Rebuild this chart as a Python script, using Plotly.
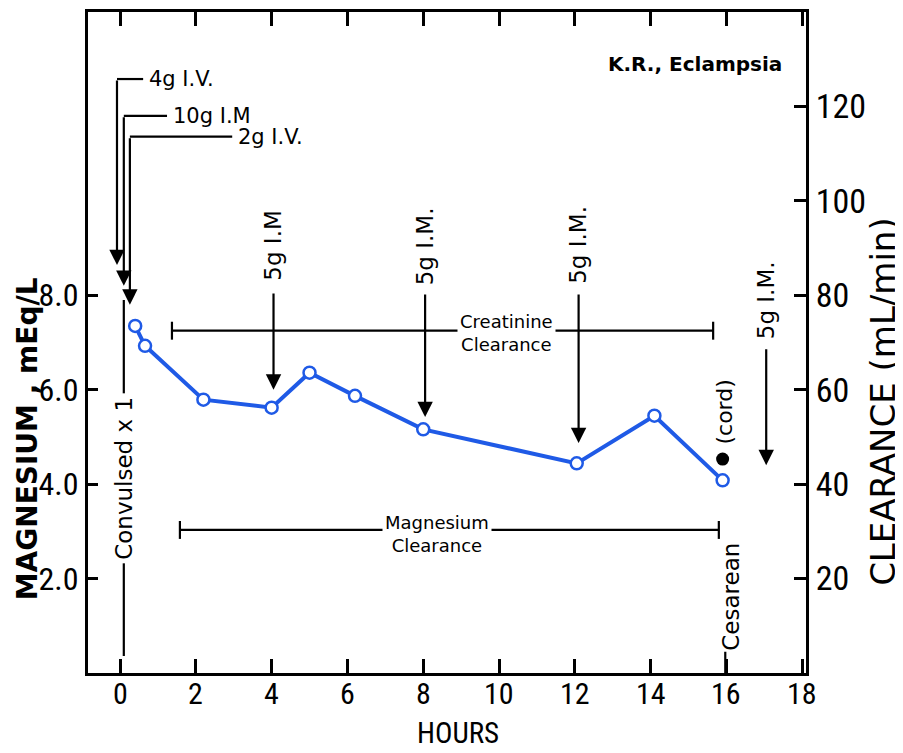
import plotly.graph_objects as go

# ---- data ----
hours = [0.4, 0.66, 2.2, 4.0, 5.0, 6.2, 8.0, 12.05, 14.1, 15.9]
magnesium = [7.35, 6.93, 5.79, 5.62, 6.36, 5.87, 5.16, 4.44, 5.45, 4.08]
cord_hour = [15.9]
cord_mg = [4.53]

x_ticks = [0, 2, 4, 6, 8, 10, 12, 14, 16, 18]
x_labels = ["0", "2", "4", "6", "8", "10", "12", "14", "16", "18"]
left_ticks = [2, 4, 6, 8]
left_labels = ["2.0", "4.0", "6.0", "8.0"]
right_ticks = [20, 40, 60, 80, 100, 120]

# maintenance doses: hour, label, text centre (mg), line top (mg), arrow tip (mg)
dose_hours = [4.05, 8.05, 12.1, 17.05]
dose_labels = ["5g I.M", "5g I.M.", "5g I.M.", "5g I.M."]
dose_text_y = [9.04, 9.04, 9.06, 7.9]
dose_top = [8.07, 8.05, 8.05, 6.89]
dose_tip = [6.0, 5.42, 4.87, 4.4]

# loading doses (L-shaped arrows): vertical hour, top (mg), tip (mg), horizontal end hour, label
load_hours = [-0.08, 0.1, 0.26]
load_top = [12.58, 11.8, 11.36]
load_tip = [8.64, 8.2, 7.8]
load_end = [0.61, 1.24, 2.96]
load_labels = ["4g I.V.", "10g I.M", "2g I.V."]

BLUE = "#1f5ae6"
NARROW = "Liberation Sans Narrow, Roboto Condensed, Liberation Sans, sans-serif"
WIDE = "DejaVu Sans, Verdana, sans-serif"

fig = go.Figure()

fig.add_trace(go.Scatter(
    x=hours, y=magnesium, mode="lines+markers",
    line=dict(color=BLUE, width=4),
    marker=dict(symbol="circle", size=12, color="white", line=dict(color=BLUE, width=2.5)),
    showlegend=False, hoverinfo="skip"))
fig.add_trace(go.Scatter(
    x=cord_hour, y=cord_mg, mode="markers",
    marker=dict(symbol="circle", size=13, color="black"),
    showlegend=False, hoverinfo="skip"))
# invisible trace to create right axis
fig.add_trace(go.Scatter(x=[None], y=[None], yaxis="y2", showlegend=False, hoverinfo="skip"))

shapes = []
ann = []
LW = 2.2

# loading doses
for h, top, tip, end, lab in zip(load_hours, load_top, load_tip, load_end, load_labels):
    shapes.append(dict(type="line", xref="x", yref="y", x0=h, x1=end, y0=top, y1=top,
                       line=dict(color="black", width=LW)))
    ann.append(dict(x=h, y=tip, ax=h, ay=top, xref="x", yref="y", axref="x", ayref="y",
                    text="", showarrow=True, arrowhead=2, arrowsize=1.4, arrowwidth=LW,
                    arrowcolor="black", standoff=0))
    ann.append(dict(x=end + 0.1, y=top, xref="x", yref="y", text=lab, showarrow=False,
                    xanchor="left", yanchor="middle", font=dict(family=WIDE, size=21, color="black")))

# maintenance doses
for h, lab, ty, top, tip in zip(dose_hours, dose_labels, dose_text_y, dose_top, dose_tip):
    ann.append(dict(x=h, y=tip, ax=h, ay=top, xref="x", yref="y", axref="x", ayref="y",
                    text="", showarrow=True, arrowhead=2, arrowsize=1.4, arrowwidth=LW,
                    arrowcolor="black", standoff=0))
    ann.append(dict(x=h, y=ty, xref="x", yref="y", text=lab, showarrow=False, textangle=-90,
                    xanchor="center", yanchor="middle", font=dict(family=WIDE, size=23, color="black")))

# convulsed line
shapes.append(dict(type="line", xref="x", yref="y", x0=0.1, x1=0.1, y0=0.36, y1=7.9,
                   line=dict(color="black", width=LW)))
ann.append(dict(x=0.1, y=4.13, xref="x", yref="y", text="Convulsed x 1", showarrow=False,
                textangle=-90, bgcolor="white", borderpad=3,
                font=dict(family=WIDE, size=23, color="black")))

# clearance bars
bars = [(1.37, 15.65, 7.25, 10.21, 7.2, "Creatinine<br>Clearance"),
        (1.58, 15.8, 3.03, 8.36, 2.95, "Magnesium<br>Clearance")]
for x0, x1, yb, tx, ty, lab in bars:
    shapes.append(dict(type="line", xref="x", yref="y", x0=x0, x1=x1, y0=yb, y1=yb,
                       line=dict(color="black", width=LW)))
    for xc in (x0, x1):
        shapes.append(dict(type="line", xref="x", yref="y", x0=xc, x1=xc, y0=yb - 0.19, y1=yb + 0.19,
                           line=dict(color="black", width=LW)))
    ann.append(dict(x=tx, y=ty, xref="x", yref="y", text=lab, showarrow=False, bgcolor="white",
                    borderpad=2, font=dict(family=WIDE, size=18, color="black")))

# cord / cesarean
ann.append(dict(x=15.94, y=5.52, xref="x", yref="y", text="(cord)", showarrow=False, textangle=-90,
                font=dict(family=WIDE, size=22, color="black")))
ann.append(dict(x=16.1, y=1.62, xref="x", yref="y", text="Cesarean", showarrow=False, textangle=-90,
                font=dict(family=WIDE, size=23, color="black")))
shapes.append(dict(type="line", xref="x", yref="y", x0=15.97, x1=15.97, y0=0, y1=0.45,
                   line=dict(color="black", width=LW)))

ann.append(dict(x=15.17, y=12.9, xref="x", yref="y", text="<b>K.R., Eclampsia</b>", showarrow=False,
                font=dict(family=WIDE, size=20, color="black")))

# x tick labels placed on the x scale, slightly closer to the axis than the default
for xv, lab in zip(x_ticks, x_labels):
    ann.append(dict(x=xv, y=0, xref="x", yref="paper", text=lab, showarrow=False,
                    xanchor="center", yanchor="middle", yshift=-20,
                    font=dict(family=NARROW, size=30, color="black")))

# axis titles
ann.append(dict(x=-0.0850, y=0.355, xref="paper", yref="paper", text="<b>MAGNESIUM , mEq/L</b>",
                showarrow=False, textangle=-90, xanchor="center", yanchor="middle", borderpad=0,
                font=dict(family=WIDE, size=28, color="black")))
ann.append(dict(x=1.108, y=0.411, xref="paper", yref="paper", text="CLEARANCE (mL/min)",
                showarrow=False, textangle=-90, xanchor="center", yanchor="middle", borderpad=0,
                font=dict(family=WIDE, size=34, color="black")))
ann.append(dict(x=0.515, y=-0.0904, xref="paper", yref="paper", text="HOURS",
                showarrow=False, xanchor="center", yanchor="middle", borderpad=0,
                font=dict(family=NARROW, size=29, color="black")))

axis_common = dict(showgrid=False, zeroline=False, showline=True, linecolor="black", linewidth=3,
                   ticks="inside", tickcolor="black", tickwidth=2.5)

fig.update_layout(
    width=903, height=753,
    margin=dict(l=80, r=105, t=1, b=88),
    paper_bgcolor="white", plot_bgcolor="white",
    xaxis=dict(range=[-0.845, 18.1], tickvals=x_ticks, ticklen=14, mirror="ticks",
               showticklabels=False, **axis_common),
    yaxis=dict(range=[0, 14], tickvals=left_ticks, ticktext=left_labels, ticklen=10,
               tickfont=dict(family=NARROW, size=32, color="black"), **axis_common),
    yaxis2=dict(range=[0, 140], tickvals=right_ticks, ticklen=12, overlaying="y", side="right",
                tickfont=dict(family=NARROW, size=34, color="black"), **axis_common),
    shapes=shapes, annotations=ann,
)

fig.write_html("out.html")
